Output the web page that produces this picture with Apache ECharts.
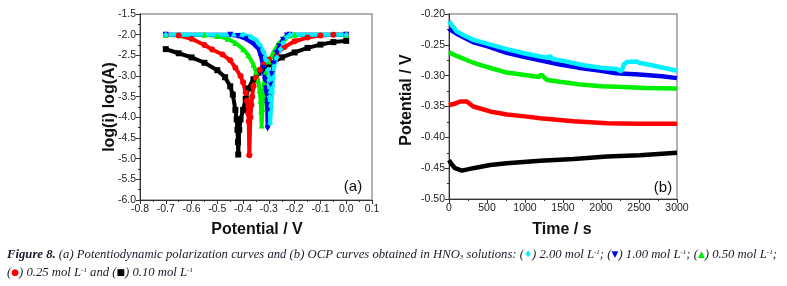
<!DOCTYPE html>
<html>
<head>
<meta charset="utf-8">
<script src="https://cdn.jsdelivr.net/npm/echarts@6/dist/echarts.min.js"></script>
<style>
  html, body { margin: 0; padding: 0; background: #fff; }
  #main { width: 787px; height: 286px; }
</style>
</head>
<body>
<div id="main"></div>
<script>
// (a) polarization curves: [potential V, log(i)]
var polBlack = [[-0.70,-2.35],[-0.65,-2.45],[-0.60,-2.55],[-0.55,-2.68],[-0.50,-2.86],[-0.47,-3.03],[-0.45,-3.25],[-0.44,-3.45],[-0.43,-3.82],[-0.425,-4.05],[-0.422,-4.3],[-0.42,-4.6],[-0.419,-4.9],[-0.415,-4.3],[-0.41,-4.05],[-0.40,-3.82],[-0.39,-3.55],[-0.38,-3.3],[-0.36,-3.08],[-0.34,-2.92],[-0.32,-2.8],[-0.30,-2.72],[-0.25,-2.55],[-0.20,-2.43],[-0.15,-2.32],[-0.10,-2.24],[-0.05,-2.18],[0.0,-2.15]];
var polRed = [[-0.70,-2.0],[-0.65,-2.02],[-0.60,-2.1],[-0.55,-2.25],[-0.52,-2.36],[-0.48,-2.48],[-0.45,-2.62],[-0.43,-2.8],[-0.41,-3.0],[-0.40,-3.15],[-0.39,-3.4],[-0.385,-3.6],[-0.38,-3.9],[-0.378,-4.1],[-0.376,-4.92],[-0.372,-4.0],[-0.368,-3.7],[-0.365,-3.5],[-0.36,-3.25],[-0.35,-3.05],[-0.335,-2.85],[-0.32,-2.72],[-0.30,-2.6],[-0.27,-2.45],[-0.24,-2.3],[-0.20,-2.16],[-0.15,-2.07],[-0.10,-2.02],[-0.05,-2.0],[0.0,-2.0]];
var polGreen = [[-0.70,-2.0],[-0.55,-2.0],[-0.50,-2.03],[-0.46,-2.1],[-0.43,-2.2],[-0.40,-2.35],[-0.38,-2.5],[-0.36,-2.72],[-0.35,-2.9],[-0.342,-3.1],[-0.336,-3.35],[-0.332,-3.6],[-0.33,-3.85],[-0.328,-4.2],[-0.325,-3.8],[-0.322,-3.45],[-0.318,-3.15],[-0.312,-2.9],[-0.30,-2.65],[-0.28,-2.4],[-0.26,-2.2],[-0.24,-2.08],[-0.22,-2.02],[-0.20,-2.0],[0.0,-2.0]];
var polBlue = [[-0.70,-2.0],[-0.45,-2.0],[-0.42,-2.03],[-0.39,-2.1],[-0.36,-2.22],[-0.34,-2.35],[-0.33,-2.55],[-0.322,-2.8],[-0.315,-3.1],[-0.31,-3.4],[-0.307,-3.7],[-0.305,-4.27],[-0.301,-3.8],[-0.298,-3.5],[-0.294,-3.2],[-0.289,-2.95],[-0.28,-2.7],[-0.27,-2.45],[-0.26,-2.28],[-0.245,-2.12],[-0.23,-2.02],[-0.22,-2.0],[0.0,-2.0]];
var polCyan = [[-0.70,-2.0],[-0.40,-2.0],[-0.37,-2.05],[-0.35,-2.13],[-0.335,-2.25],[-0.32,-2.42],[-0.31,-2.62],[-0.303,-2.85],[-0.299,-3.1],[-0.297,-3.5],[-0.295,-4.15],[-0.291,-3.75],[-0.287,-3.4],[-0.284,-3.05],[-0.28,-2.77],[-0.27,-2.55],[-0.255,-2.35],[-0.245,-2.2],[-0.23,-2.06],[-0.218,-2.0],[0.0,-2.0]];

// (b) OCP curves: [time s, potential V]
var ocpCyan = [[0,-0.212],[100,-0.228],[200,-0.235],[320,-0.242],[500,-0.248],[760,-0.257],[1000,-0.264],[1200,-0.269],[1300,-0.271],[1330,-0.268],[1360,-0.273],[1500,-0.276],[1770,-0.283],[2000,-0.287],[2200,-0.289],[2270,-0.293],[2300,-0.282],[2340,-0.278],[2470,-0.277],[2500,-0.279],[2700,-0.284],[2850,-0.288],[3000,-0.292]];
var ocpBlue = [[0,-0.224],[100,-0.232],[320,-0.246],[500,-0.252],[760,-0.263],[1000,-0.27],[1200,-0.275],[1460,-0.282],[1700,-0.287],[2000,-0.292],[2200,-0.296],[2500,-0.298],[2800,-0.301],[3000,-0.304]];
var ocpGreen = [[0,-0.262],[100,-0.268],[320,-0.279],[500,-0.286],[760,-0.295],[1000,-0.299],[1190,-0.302],[1210,-0.298],[1290,-0.307],[1460,-0.31],[1700,-0.314],[2000,-0.317],[2200,-0.318],[2600,-0.32],[3000,-0.321]];
var ocpRed = [[0,-0.348],[60,-0.346],[145,-0.342],[233,-0.342],[320,-0.35],[540,-0.358],[760,-0.363],[1000,-0.366],[1200,-0.369],[1640,-0.374],[2080,-0.377],[2500,-0.378],[3000,-0.378]];
var ocpBlack = [[0,-0.437],[30,-0.443],[80,-0.45],[170,-0.454],[320,-0.45],[540,-0.445],[760,-0.442],[1200,-0.438],[1640,-0.435],[2080,-0.431],[2510,-0.429],[3000,-0.425]];

var colors = { cyan: '#00f0ff', blue: '#0000ee', green: '#00ee00', red: '#ff0000', black: '#000000' };

var chart = echarts.init(document.getElementById('main'), null, { renderer: 'canvas' });

function axisCommon(fmt) {
  return {
    axisLine: { show: true, onZero: false, lineStyle: { color: '#333', width: 1 } },
    axisTick: { show: true, length: 4, lineStyle: { color: '#333' } },
    minorTick: { show: true, splitNumber: 2, length: 2, lineStyle: { color: '#333' } },
    splitLine: { show: false },
    axisLabel: { color: '#222', fontSize: 10.5, fontFamily: 'Liberation Sans, Arial', margin: 4, formatter: fmt }
  };
}

function polSeries(data, color, symbol, rotate) {
  return {
    type: 'line', xAxisIndex: 0, yAxisIndex: 0, data: data,
    symbol: symbol, symbolSize: 6, symbolRotate: rotate || 0, showAllSymbol: true,
    lineStyle: { color: color, width: 4 }, itemStyle: { color: color }
  };
}
function ocpSeries(data, color) {
  return {
    type: 'line', xAxisIndex: 1, yAxisIndex: 1, data: data, showSymbol: false,
    lineStyle: { color: color, width: 4.5 }
  };
}

var option = {
  animation: false,
  backgroundColor: '#fff',
  grid: [
    { left: 140, top: 14, width: 232, height: 186, show: true, borderColor: '#999', borderWidth: 1.5 },
    { left: 449, top: 14, width: 228, height: 185, show: true, borderColor: '#999', borderWidth: 1.5 }
  ],
  xAxis: [
    Object.assign({ type: 'value', gridIndex: 0, min: -0.8, max: 0.1, interval: 0.1 }, axisCommon(function (v) { return v.toFixed(1); })),
    Object.assign({ type: 'value', gridIndex: 1, min: 0, max: 3000, interval: 500 }, axisCommon(function (v) { return String(v); }))
  ],
  yAxis: [
    Object.assign({ type: 'value', gridIndex: 0, min: -6.0, max: -1.5, interval: 0.5 }, axisCommon(function (v) { return v.toFixed(1); })),
    Object.assign({ type: 'value', gridIndex: 1, min: -0.5, max: -0.2, interval: 0.05 }, axisCommon(function (v) { return v.toFixed(2); }))
  ],
  series: [
    polSeries(polBlack, colors.black, 'rect'),
    polSeries(polRed, colors.red, 'circle'),
    polSeries(polGreen, colors.green, 'triangle'),
    polSeries(polBlue, colors.blue, 'triangle', 180),
    polSeries(polCyan, colors.cyan, 'diamond'),
    ocpSeries(ocpBlack, colors.black),
    ocpSeries(ocpRed, colors.red),
    ocpSeries(ocpGreen, colors.green),
    ocpSeries(ocpBlue, colors.blue),
    ocpSeries(ocpCyan, colors.cyan)
  ],
  graphic: [
    { type: 'text', x: 110, y: 107, rotation: Math.PI / 2, style: { text: 'log(i) log(A)', font: 'bold 16px "Liberation Sans", Arial', fill: '#111', align: 'center', verticalAlign: 'middle' } },
    { type: 'text', x: 407, y: 100, rotation: Math.PI / 2, style: { text: 'Potential / V', font: 'bold 16px "Liberation Sans", Arial', fill: '#111', align: 'center', verticalAlign: 'middle' } },
    { type: 'text', x: 257, y: 230, style: { text: 'Potential / V', font: 'bold 16px "Liberation Sans", Arial', fill: '#111', align: 'center', verticalAlign: 'middle' } },
    { type: 'text', x: 562, y: 230, style: { text: 'Time / s', font: 'bold 16px "Liberation Sans", Arial', fill: '#111', align: 'center', verticalAlign: 'middle' } },
    { type: 'text', x: 353, y: 187, style: { text: '(a)', font: '15px "Liberation Sans", Arial', fill: '#111', align: 'center', verticalAlign: 'middle' } },
    { type: 'text', x: 663, y: 188, style: { text: '(b)', font: '15px "Liberation Sans", Arial', fill: '#111', align: 'center', verticalAlign: 'middle' } },
    {
      type: 'text', x: 7, y: 246,
      style: {
        text: '{b|Figure 8.} {i|(a) Potentiodynamic polarization curves and (b) OCP curves obtained in HNO}{sub|3}{i| solutions: (}{c|♦}{i|) 2.00 mol L}{sup|-1}{i|; (}{bl|▼}{i|) 1.00 mol L}{sup|-1}{i|; (}{g|▲}{i|) 0.50 mol L}{sup|-1}{i|;}\n{i|(}{r|●}{i|) 0.25 mol L}{sup|-1}{i| and (}{k|■}{i|) 0.10 mol L}{sup|-1}',
        fill: '#1a1a2a',
        font: 'italic 12.7px "Liberation Serif", "Times New Roman", serif',
        lineHeight: 18,
        rich: {
          b: { font: 'italic bold 12.7px "Liberation Serif", serif', fill: '#1a1a2a', lineHeight: 18 },
          i: { font: 'italic 12.7px "Liberation Serif", serif', fill: '#1a1a2a', lineHeight: 18 },
          sup: { font: 'italic 7px "Liberation Serif", serif', fill: '#1a1a2a', lineHeight: 18, verticalAlign: 'top', padding: [3, 0, 0, 0] },
          sub: { font: 'italic 7px "Liberation Serif", serif', fill: '#1a1a2a', lineHeight: 18, verticalAlign: 'bottom', padding: [0, 0, 3, 0] },
          c: { font: '9px "DejaVu Sans"', fill: colors.cyan, lineHeight: 18 },
          bl: { font: '9px "DejaVu Sans"', fill: colors.blue, lineHeight: 18 },
          g: { font: '9px "DejaVu Sans"', fill: colors.green, lineHeight: 18 },
          r: { font: '9px "DejaVu Sans"', fill: colors.red, lineHeight: 18 },
          k: { font: '9px "DejaVu Sans"', fill: colors.black, lineHeight: 18 }
        }
      }
    }
  ]
};

chart.setOption(option);
</script>
</body>
</html>
